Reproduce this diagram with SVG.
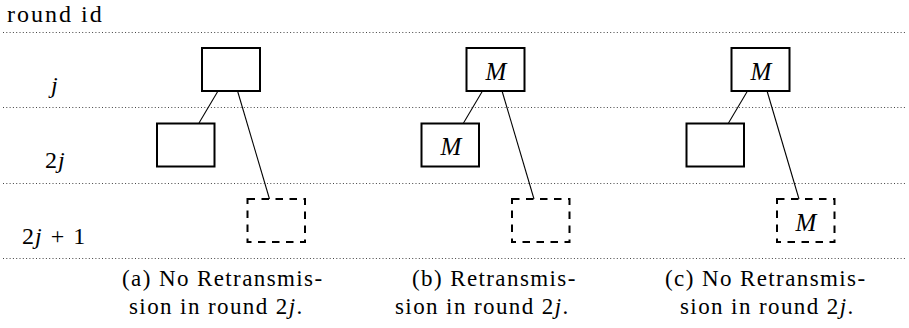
<svg xmlns="http://www.w3.org/2000/svg" width="909" height="328" viewBox="0 0 909 328">
<style>
  .grid { stroke: #444444; stroke-width: 1; stroke-dasharray: 1 2.3; fill: none; }
  .box { fill: #ffffff; stroke: #000000; stroke-width: 2; }
  .dbox { fill: #ffffff; stroke: #000000; stroke-width: 2; stroke-dasharray: 7.5 6.5; }
  .edge { stroke: #000000; stroke-width: 1.1; fill: none; }
</style>
<rect x="0" y="0" width="909" height="328" fill="#ffffff"/>

<g id="rows">
  <line class="grid" x1="3" y1="32.5" x2="907" y2="32.5"/>
  <line class="grid" x1="3" y1="107.5" x2="907" y2="107.5"/>
  <line class="grid" x1="3" y1="183.5" x2="907" y2="183.5"/>
  <line class="grid" x1="3" y1="258.5" x2="907" y2="258.5"/>
</g>

<g id="row-labels" fill="#000000">
  <text x="7" y="22" font-size="24" font-family="Liberation Serif, serif" letter-spacing="2">round id</text>
  <text x="51" y="93" font-size="24" font-family="Liberation Serif, serif" font-style="italic">j</text>
  <text x="45" y="168" font-size="24" font-family="Liberation Serif, serif">2<tspan font-style="italic" dx="1">j</tspan></text>
  <text x="22" y="244" font-size="24" font-family="Liberation Serif, serif">2<tspan font-style="italic" dx="1">j</tspan><tspan dx="9">+</tspan><tspan dx="9">1</tspan></text>
</g>

<g id="connectors">
  <line class="edge" x1="217.7" y1="91.5" x2="199" y2="123"/>
  <line class="edge" x1="237.7" y1="91.5" x2="269.5" y2="199"/>
  <line class="edge" x1="482.2" y1="91.5" x2="463.5" y2="123"/>
  <line class="edge" x1="502.2" y1="91.5" x2="534" y2="199"/>
  <line class="edge" x1="747.2" y1="91.5" x2="728.5" y2="123"/>
  <line class="edge" x1="767.2" y1="91.5" x2="799" y2="199"/>
</g>

<g id="a-j"><rect class="box" x="202" y="48" width="58" height="43"/></g>
<g id="a-2j"><rect class="box" x="157" y="123.5" width="57.5" height="43"/></g>
<g id="a-2j1"><rect class="dbox" x="247.5" y="199" width="57.5" height="43"/></g>

<g id="b-j"><rect class="box" x="466.5" y="48" width="58" height="43"/><text x="496" y="80" font-size="25" font-family="Liberation Serif, serif" font-style="italic" text-anchor="middle" fill="#000000">M</text></g>
<g id="b-2j"><rect class="box" x="421.5" y="123.5" width="57.5" height="43"/><text x="451" y="155" font-size="25" font-family="Liberation Serif, serif" font-style="italic" text-anchor="middle" fill="#000000">M</text></g>
<g id="b-2j1"><rect class="dbox" x="512" y="199" width="57.5" height="43"/></g>

<g id="c-j"><rect class="box" x="731.5" y="48" width="58" height="43"/><text x="761" y="80" font-size="25" font-family="Liberation Serif, serif" font-style="italic" text-anchor="middle" fill="#000000">M</text></g>
<g id="c-2j"><rect class="box" x="686.5" y="123.5" width="57.5" height="43"/></g>
<g id="c-2j1"><rect class="dbox" x="777" y="199" width="57.5" height="43"/><text x="806" y="231" font-size="25" font-family="Liberation Serif, serif" font-style="italic" text-anchor="middle" fill="#000000">M</text></g>

<g id="captions" fill="#000000">
  <text x="122" y="286" font-size="23" font-family="Liberation Serif, serif" letter-spacing="1.4">(a) No Retransmis-</text>
  <text x="129" y="314" font-size="23" font-family="Liberation Serif, serif" letter-spacing="1.4">sion in round 2<tspan font-style="italic">j</tspan>.</text>
  <text x="412" y="286" font-size="23" font-family="Liberation Serif, serif" letter-spacing="1.4">(b) Retransmis-</text>
  <text x="395" y="314" font-size="23" font-family="Liberation Serif, serif" letter-spacing="1.4">sion in round 2<tspan font-style="italic">j</tspan>.</text>
  <text x="665" y="286" font-size="23" font-family="Liberation Serif, serif" letter-spacing="1.4">(c) No Retransmis-</text>
  <text x="680" y="314" font-size="23" font-family="Liberation Serif, serif" letter-spacing="1.4">sion in round 2<tspan font-style="italic">j</tspan>.</text>
</g>
</svg>
